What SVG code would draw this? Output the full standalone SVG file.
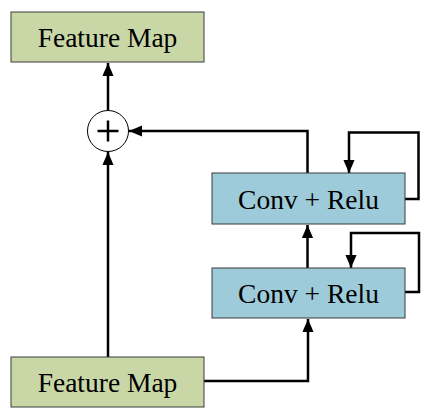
<svg xmlns="http://www.w3.org/2000/svg" width="428" height="416" viewBox="0 0 428 416">
<style>
.fm{fill:#c9d7a7;stroke:#3a3a3a;stroke-width:1}
.cr{fill:#9ecbd9;stroke:#3a3a3a;stroke-width:1}
.t{font-family:"Liberation Serif","Times New Roman",serif;font-size:27.5px;fill:#000;text-anchor:middle}
.c{fill:none;stroke:#000;stroke-width:2.5;stroke-linejoin:miter}
</style>
<defs>
<marker id="ah" viewBox="0 0 14 12" refX="14" refY="6" markerWidth="5.4" markerHeight="4.6" orient="auto" markerUnits="strokeWidth">
<path d="M0,0 L14,6 L0,12 z" fill="#000"/>
</marker>
</defs>
<rect width="428" height="416" fill="#fff"/>
<g id="connectors">
<path class="c" d="M108,110 L108,63" marker-end="url(#ah)"/>
<path class="c" d="M307.5,173 L307.5,131 L129,131" marker-end="url(#ah)"/>
<path class="c" d="M405,199 L418.5,199 L418.5,132.5 L349,132.5 L349,173" marker-end="url(#ah)"/>
<path class="c" d="M307.5,268 L307.5,225" marker-end="url(#ah)"/>
<path class="c" d="M405,292 L419,292 L419,233 L351,233 L351,268" marker-end="url(#ah)"/>
<path class="c" d="M108,357 L108,152" marker-end="url(#ah)"/>
<path class="c" d="M204,381 L308,381 L308,319" marker-end="url(#ah)"/>
</g>
<g id="fm_top">
<rect class="fm" x="11" y="12" width="193" height="50"/>
<text class="t" x="107.5" y="46.5">Feature Map</text>
</g>
<g id="add">
<circle cx="108" cy="131" r="20.5" fill="#fff" stroke="#000" stroke-width="1"/>
<path d="M97.5,131 L118.5,131 M108,120.5 L108,141.5" stroke="#000" stroke-width="2.5" fill="none"/>
</g>
<g id="conv1">
<rect class="cr" x="212" y="173" width="193" height="51"/>
<text class="t" x="308.5" y="208.5">Conv + Relu</text>
</g>
<g id="conv2">
<rect class="cr" x="212" y="268" width="193" height="50"/>
<text class="t" x="308.5" y="302.5">Conv + Relu</text>
</g>
<g id="fm_bottom">
<rect class="fm" x="11" y="357" width="193" height="50"/>
<text class="t" x="107.5" y="391.5">Feature Map</text>
</g>
</svg>
